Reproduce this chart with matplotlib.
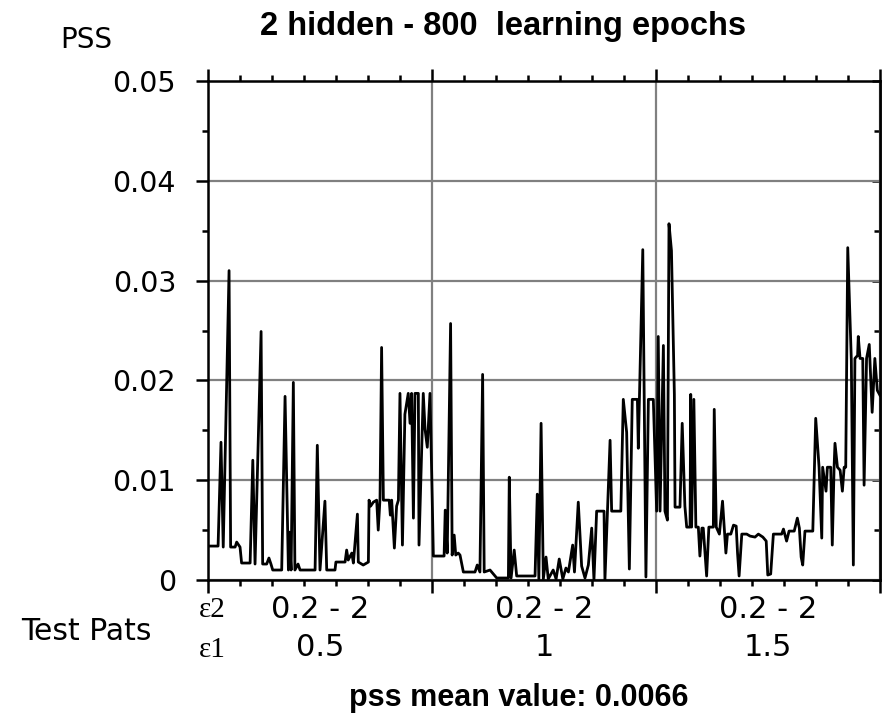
import matplotlib
matplotlib.use("Agg")
import matplotlib.pyplot as plt
from matplotlib.ticker import MultipleLocator, NullFormatter

# test pattern index (100 patterns per eps1 block) and PSS
pattern = [
    0, 4.5, 5.8, 6.8, 9.4, 10.1, 12.1, 12.8, 14.3, 15.0, 18.8, 20.0, 21.0, 23.7, 24.4,
    26.2, 27.2, 28.1, 28.9, 32.9, 34.4, 35.9, 36.2, 37.1, 38.1, 38.8, 40.2, 41.1, 47.8,
    48.8, 50.0, 52.2, 53.0, 56.7, 57.1, 61.2, 61.9, 62.6, 64.2, 64.9, 66.7, 67.1, 69.3,
    71.6, 71.9, 72.6, 73.8, 75.3, 76.0, 76.8, 77.5, 78.3, 80.9, 81.4, 82.0, 83.2, 84.2,
    85.0, 85.7, 86.8, 87.9, 89.4, 90.2, 90.9, 91.7, 92.4, 93.9, 94.2, 96.1, 96.9, 97.9,
    99.1, 100.1, 100.6,
    105.4, 105.9, 106.8, 108.3, 109.0, 109.9, 110.6, 111.7, 112.5, 114.0, 119.2, 120.2,
    121.4, 122.6, 123.3, 125.9, 128.9, 134.1, 134.5, 135.3, 136.7, 137.8, 146.0, 147.0,
    147.7, 148.7, 149.7, 150.9, 151.9, 154.1, 155.4, 156.8, 158.4, 159.8, 160.9, 162.8,
    163.6, 165.3, 166.8, 168.3, 169.8, 171.3, 172.3, 173.5, 176.8, 177.2, 179.5, 180.2,
    184.3, 185.4, 186.9, 188.1, 189.4, 191.7, 192.1, 192.6, 194.1, 195.5, 196.6, 198.8,
    200.3,
    201.0, 201.8, 203.3, 204.0, 205.1, 205.8, 206.9, 208.2, 208.5, 210.7, 211.7, 212.9,
    213.7, 215.2, 215.5, 215.9, 216.9, 217.8, 218.9, 219.6, 220.5, 221.1, 222.6, 223.6,
    225.6, 226.0, 226.9, 228.3, 229.7, 231.2, 231.9, 233.4, 234.6, 235.8, 236.4, 237.1,
    238.3, 240.5, 242.0, 244.2, 245.7, 247.7, 249.2, 249.9, 251.2, 252.4, 256.1, 256.9,
    258.3, 259.4, 261.7, 263.1, 264.0, 264.8, 265.5, 266.5, 270.0, 271.3, 272.8, 274.0,
    274.4, 275.9, 276.5, 278.0, 278.7, 279.5, 279.9, 281.0, 282.2, 283.2, 284.0, 284.7,
    285.6, 287.2, 288.1, 288.8, 290.0, 290.3, 291.1, 292.3, 292.9, 294.0, 295.2, 296.5,
    297.7, 298.8, 300.0,
]
pss = [
    0.0034, 0.0034, 0.0138, 0.0033, 0.0310, 0.0033, 0.0033, 0.0038, 0.0033, 0.0017,
    0.0017, 0.0120, 0.0016, 0.0249, 0.0016, 0.0016, 0.0022, 0.0016, 0.0010, 0.0010,
    0.0184, 0.0010, 0.0048, 0.0010, 0.0198, 0.0010, 0.0016, 0.0010, 0.0010, 0.0135,
    0.0010, 0.0079, 0.0010, 0.0010, 0.0018, 0.0018, 0.0030, 0.0020, 0.0027, 0.0017,
    0.0066, 0.0018, 0.0015, 0.0018, 0.0080, 0.0074, 0.0078, 0.0080, 0.0050, 0.0082,
    0.0233, 0.0080, 0.0080, 0.0065, 0.0080, 0.0032, 0.0074, 0.0080, 0.0187, 0.0035,
    0.0166, 0.0187, 0.0157, 0.0187, 0.0062, 0.0187, 0.0187, 0.0035, 0.0187, 0.0151,
    0.0133, 0.0187, 0.0082, 0.0024,
    0.0024, 0.0070, 0.0027, 0.0257, 0.0025, 0.0045, 0.0025, 0.0027, 0.0025, 0.0008,
    0.0008, 0.0015, 0.0008, 0.0206, 0.0008, 0.0010, 0.0002, 0.0002, 0.0103, 0.0002,
    0.0030, 0.0004, 0.0004, 0.0086, 0.0001, 0.0157, 0.0001, 0.0023, 0.0001, 0.0010,
    0.0001, 0.0021, 0.0001, 0.0012, 0.0008, 0.0035, 0.0008, 0.0078, 0.0014, 0.0002,
    0.0015, 0.0052, 0.0000, 0.0069, 0.0069, 0.0000, 0.0140, 0.0069, 0.0069, 0.0181,
    0.0148, 0.0011, 0.0181, 0.0181, 0.0132, 0.0181, 0.0331, 0.0003, 0.0181, 0.0181,
    0.0069,
    0.0244, 0.0069, 0.0235, 0.0069, 0.0060, 0.0357, 0.0330, 0.0186, 0.0073, 0.0073,
    0.0157, 0.0074, 0.0053, 0.0053, 0.0186, 0.0053, 0.0181, 0.0053, 0.0053, 0.0024,
    0.0052, 0.0052, 0.0004, 0.0053, 0.0053, 0.0171, 0.0053, 0.0046, 0.0079, 0.0027,
    0.0046, 0.0046, 0.0055, 0.0054, 0.0027, 0.0004, 0.0046, 0.0046, 0.0044, 0.0043,
    0.0046, 0.0043, 0.0039, 0.0005, 0.0006, 0.0046, 0.0046, 0.0051, 0.0039, 0.0049,
    0.0049, 0.0062, 0.0052, 0.0023, 0.0015, 0.0049, 0.0049, 0.0162, 0.0113, 0.0042,
    0.0113, 0.0089, 0.0113, 0.0113, 0.0035, 0.0113, 0.0137, 0.0113, 0.0110, 0.0089,
    0.0113, 0.0113, 0.0333, 0.0220, 0.0015, 0.0222, 0.0225, 0.0244, 0.0222, 0.0222,
    0.0095, 0.0222, 0.0236, 0.0168, 0.0222, 0.0190, 0.0185,
]

eps2_labels = ["0.2 - 2", "0.2 - 2", "0.2 - 2"]
eps1_labels = ["0.5", "1", "1.5"]
title = "2 hidden - 800  learning epochs"
footer = "pss mean value: 0.0066"

W, H = 885, 720
fig = plt.figure(figsize=(W / 100, H / 100), dpi=100)
ax = fig.add_axes([208 / W, 1 - 580 / H, 672 / W, 499 / H])

ax.plot(pattern, pss, color="black", lw=2, zorder=3)

ax.set_xlim(0, 300)
ax.set_ylim(0, 0.05)
ax.xaxis.set_major_locator(MultipleLocator(100))
ax.xaxis.set_minor_locator(MultipleLocator(100 / 7))
ax.xaxis.set_major_formatter(NullFormatter())
ax.yaxis.set_major_locator(MultipleLocator(0.01))
ax.yaxis.set_minor_locator(MultipleLocator(0.005))
ax.set_yticks([0, 0.01, 0.02, 0.03, 0.04, 0.05])
ax.set_yticklabels(["0", "0.01", "0.02", "0.03", "0.04", "0.05"])

ax.grid(True, which="major", color="#808080", lw=1.6, zorder=1)
for s in ax.spines.values():
    s.set_linewidth(1.8)
    s.set_zorder(4)

ax.tick_params(which="major", direction="out", length=9, width=1.8,
               top=True, right=False, labelsize=20.5, pad=14)
ax.tick_params(which="minor", direction="out", length=4, width=1.8,
               top=True, right=False)

# right side ticks point inward
sec = ax.secondary_yaxis("right")
sec.yaxis.set_major_locator(MultipleLocator(0.01))
sec.yaxis.set_minor_locator(MultipleLocator(0.005))
sec.yaxis.set_major_formatter(NullFormatter())
sec.tick_params(which="major", direction="in", length=6, width=1.8)
sec.tick_params(which="minor", direction="in", length=4, width=1.8)
sec.spines["right"].set_linewidth(1.8)

fig.text(86 / W, 1 - 40 / H, "PSS", fontsize=20, ha="center", va="center")
fig.text(503 / W, 1 - 26 / H, title, fontsize=23.5, fontweight="bold",
         family="Liberation Sans", ha="center", va="center")
fig.text(86 / W, 1 - 632 / H, "Test Pats", fontsize=21.5, ha="center", va="center")
fig.text(212 / W, 1 - 610 / H, "ε2", fontsize=21, family="Liberation Serif",
         ha="center", va="center")
fig.text(212 / W, 1 - 650 / H, "ε1", fontsize=21, family="Liberation Serif",
         ha="center", va="center")
for i, (lab2, lab1) in enumerate(zip(eps2_labels, eps1_labels)):
    xc = ax.transData.transform((50 + 100 * i, 0))[0] / W
    fig.text(xc, 1 - 609 / H, lab2, fontsize=22, ha="center", va="center")
    fig.text(xc, 1 - 648 / H, lab1, fontsize=22, ha="center", va="center")
fig.text(519 / W, 1 - 698 / H, footer, fontsize=22, fontweight="bold",
         family="Liberation Sans", ha="center", va="center")

fig.savefig("out.png", dpi=100)
